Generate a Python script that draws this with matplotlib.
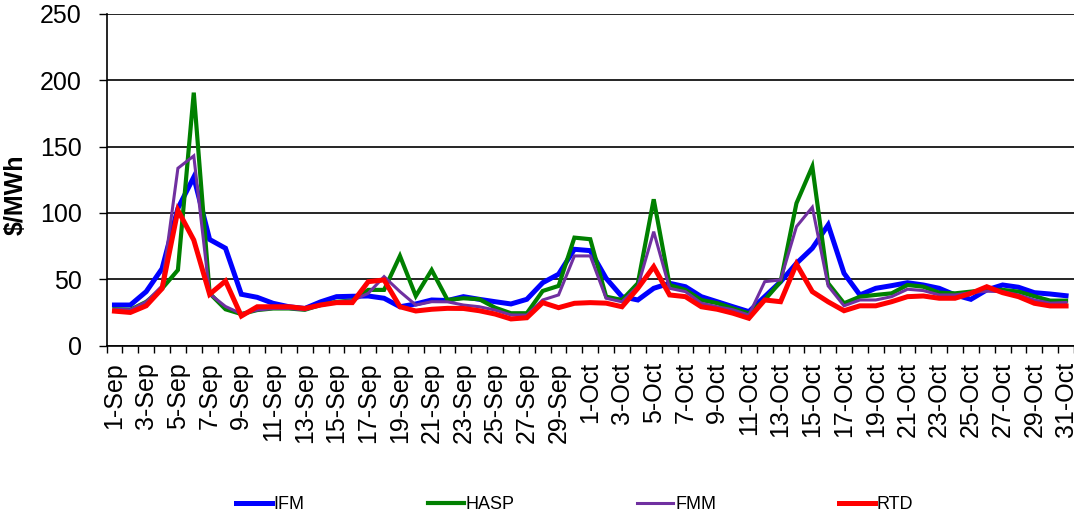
import matplotlib.pyplot as plt
import numpy as np

plt.rcParams['font.family'] = ['Liberation Sans', 'DejaVu Sans']

days = [f"{d}-Sep" for d in range(1, 31)] + [f"{d}-Oct" for d in range(1, 32)]

ifm = [30.6, 30.6, 40.7, 58, 103.5, 127, 80, 73.4, 38.7, 36.4,
       31.9, 29.3, 28, 33, 36.9, 37.2, 37.4, 35.7, 29.3, 31.4,
       34.4, 34, 36.9, 34.9, 33.1, 31.4, 34.9, 47.4, 53.8, 72.6,
       71.6, 50.7, 36.9, 34.4, 43.2, 47, 44.4, 36.9, 33.1, 29.3,
       25.6, 36.9, 48.2, 62, 73.4, 91, 54.5, 38.2, 43.2, 45.2,
       47.4, 45.7, 43.2, 38.2, 34.9, 42, 45.7, 44, 39.9, 38.9, 37.6]
hasp = [27.4, 27, 33, 43, 57, 190.7, 39.4, 27.4, 23.8, 26.8,
        28, 28, 27, 30.6, 33, 34, 42, 42, 67.6, 37.4,
        57, 34.4, 35.7, 35, 28.6, 24.4, 24.4, 41.2, 45, 81.4,
        80.2, 36.9, 34.4, 47, 110.3, 45.7, 42, 34.4, 32, 28,
        24.3, 34.4, 48.2, 107.3, 135, 47, 31.9, 36.9, 38.2, 39.4,
        45.7, 44.4, 39.9, 39.4, 40.7, 42, 42, 40.7, 37.2, 33.9, 33.9]
fmm = [27.4, 27, 33, 45, 133.7, 143, 39, 29.5, 24, 26.8,
       28, 28, 27, 30.6, 33, 34, 39.4, 52, 40.7, 30.6,
       33.1, 33, 30.6, 29.3, 26.8, 23.1, 23, 34.4, 38.2, 67.6,
       67.6, 35.7, 33, 44.7, 85.9, 43.2, 40.7, 32, 29.3, 27,
       23, 48.2, 49.5, 89.7, 104.3, 45, 30, 34.4, 34.4, 36.9,
       42.5, 41.5, 38.2, 38.2, 39.9, 41, 40.7, 38.2, 34.4, 32, 32.5]
rtd = [26, 25, 30, 43, 102, 79.6, 38.7, 48.7, 22.3, 29.3,
       29.3, 29.3, 28, 30.6, 32.4, 32.4, 48.2, 49.5, 29.3, 26.1,
       27.4, 28.1, 28, 26.3, 23.8, 20.1, 21, 32.4, 28.6, 31.9,
       32.4, 32, 29.3, 43.2, 59.5, 38.2, 36.9, 29.3, 27.4, 24.4,
       20.6, 34.4, 33.1, 61.5, 40.7, 33, 26.3, 30, 30, 33.1,
       36.9, 37.4, 35.7, 35.7, 39.4, 44.4, 39.9, 36.9, 31.9, 29.9, 29.9]

series = [("IFM", ifm, "#0000FF", 3.6),
          ("HASP", hasp, "#008000", 3.0),
          ("FMM", fmm, "#7030A0", 2.2),
          ("RTD", rtd, "#FF0000", 3.6)]

fig = plt.figure(figsize=(10.74, 5.17), dpi=100)
ax = fig.add_axes([0.0992, 0.3315, 0.9008, 0.6415])

x = np.arange(1, len(days) + 1)
for name, vals, col, lw in series:
    ax.plot(x, vals, color=col, lw=lw, label=name, solid_joinstyle='miter')

ax.set_xlim(0.5, len(days) + 0.5)
ax.set_ylim(0, 250)
ax.set_yticks(range(0, 251, 50))
ax.tick_params(axis='y', labelsize=18, length=6, width=1, pad=12)
ax.grid(axis='y', color='black', lw=1.2)
ax.set_axisbelow(True)

ax.set_xticks(x[::2])
ax.set_xticklabels(days[::2], rotation=90, fontsize=18)
ax.set_xticks(np.arange(0.5, len(days) + 1), minor=True)
ax.tick_params(axis='x', which='major', length=0, pad=12)
ax.tick_params(axis='x', which='minor', length=5, width=1)

for s in ['top', 'right']:
    ax.spines[s].set_visible(False)
ax.spines['left'].set_linewidth(1.2)
ax.spines['bottom'].set_linewidth(1.2)

ax.set_ylabel('$/MWh', fontsize=18, fontweight='bold')
ax.yaxis.set_label_coords(-0.082, 0.454)

fig.legend(loc='center', bbox_to_anchor=(0.535, 0.024), ncol=4, frameon=False,
           fontsize=13, handlelength=2.0, handletextpad=0.1, columnspacing=6.8)

fig.savefig('out.png', dpi=100)
